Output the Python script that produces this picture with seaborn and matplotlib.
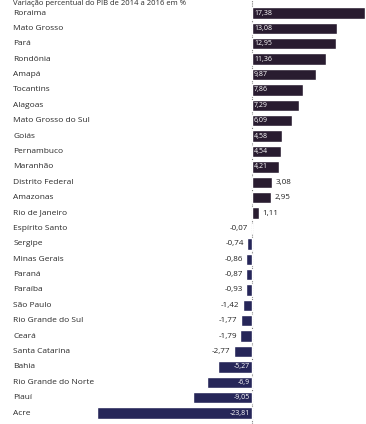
import matplotlib
matplotlib.use("Agg")
import matplotlib.pyplot as plt
import matplotlib.transforms as mtransforms
import pandas as pd
import seaborn as sns

states = ["Roraima", "Mato Grosso", "Pará", "Rondônia", "Amapá", "Tocantins",
          "Alagoas", "Mato Grosso do Sul", "Goiás", "Pernambuco", "Maranhão",
          "Distrito Federal", "Amazonas", "Rio de Janeiro", "Espírito Santo",
          "Sergipe", "Minas Gerais", "Paraná", "Paraíba", "São Paulo",
          "Rio Grande do Sul", "Ceará", "Santa Catarina", "Bahia",
          "Rio Grande do Norte", "Piauí", "Acre"]
values = [17.38, 13.08, 12.95, 11.36, 9.87, 7.86, 7.29, 6.09, 4.58, 4.54, 4.21,
          3.08, 2.95, 1.11, -0.07, -0.74, -0.86, -0.87, -0.93, -1.42, -1.77,
          -1.79, -2.77, -5.27, -6.9, -9.05, -23.81]
value_labels = ["17,38", "13,08", "12,95", "11,36", "9,87", "7,86", "7,29",
                "6,09", "4,58", "4,54", "4,21", "3,08", "2,95", "1,11", "-0,07",
                "-0,74", "-0,86", "-0,87", "-0,93", "-1,42", "-1,77", "-1,79",
                "-2,77", "-5,27", "-6,9", "-9,05", "-23,81"]
title = "Variação percentual do PIB de 2014 a 2016 em %"

df = pd.DataFrame({"estado": states, "valor": values})
df["sinal"] = ["pos" if v >= 0 else "neg" for v in values]

sns.set_style("white")
plt.rcParams["font.family"] = ["Open Sans", "DejaVu Sans"]

fig = plt.figure(figsize=(3.66, 4.24), dpi=100)
ax = fig.add_axes([0, 0, 1, 1])

sns.barplot(data=df, x="valor", y="estado", hue="sinal", orient="h",
            palette={"pos": "#2a1834", "neg": "#1d1e62"}, dodge=False,
            width=0.74, legend=False, ax=ax)

# zero axis line
ax.axvline(0, color="#777777", lw=0.8, ls=(0, (1, 1)), zorder=0)

ax.set_xlim(-38.8, 17.55)
ax.set_ylim(26.71, -0.845)
ax.set_axis_off()

# state names on the left
trans = mtransforms.blended_transform_factory(ax.transAxes, ax.transData)
for i, name in enumerate(states):
    ax.text(0.036, i, name, transform=trans, ha="left", va="center",
            fontsize=6, color="#2a2a2a")

# value labels
for i, (v, lab) in enumerate(zip(values, value_labels)):
    if v >= 4:
        ax.text(0.3, i, lab, ha="left", va="center", fontsize=5, color="white")
    elif v >= 0:
        ax.text(v + 0.5, i, lab, ha="left", va="center", fontsize=5.8, color="#222222")
    elif v > -3:
        ax.text(v - 0.5, i, lab, ha="right", va="center", fontsize=5.8, color="#222222")
    else:
        ax.text(-0.3, i, lab, ha="right", va="center", fontsize=5, color="white")

fig.text(0.036, 0.999, title, ha="left", va="top", fontsize=5.5, color="#2a2a2a")

fig.savefig("out.png", dpi=100, facecolor="white")
